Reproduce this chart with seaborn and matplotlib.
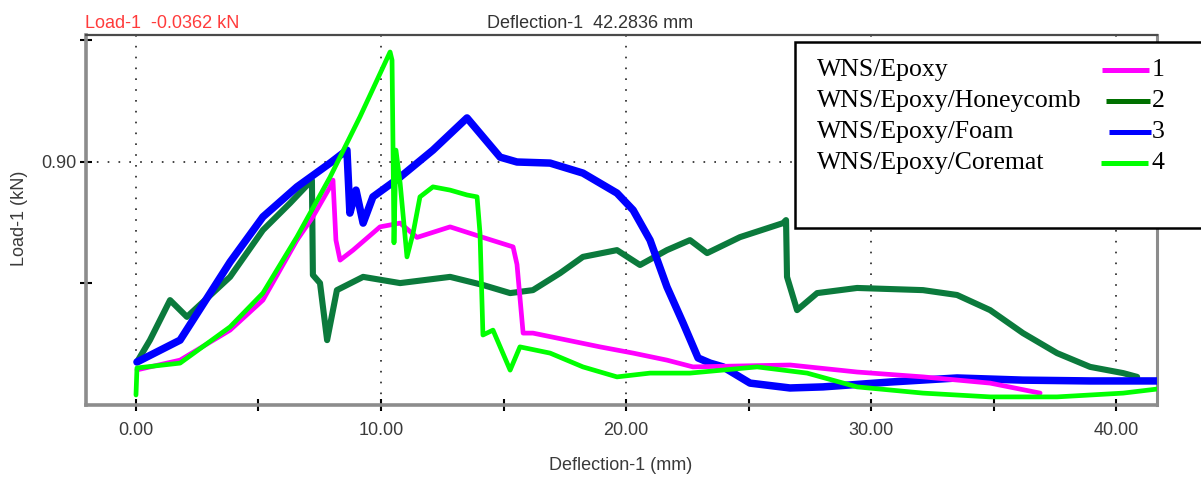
import numpy as np
import pandas as pd
import matplotlib
matplotlib.use("Agg")
import matplotlib.pyplot as plt
import seaborn as sns
from matplotlib.lines import Line2D
from matplotlib.patches import Rectangle

# ---------------- data ----------------
series_names = ["WNS/Epoxy", "WNS/Epoxy/Honeycomb", "WNS/Epoxy/Foam", "WNS/Epoxy/Coremat"]
series_numbers = ["1", "2", "3", "4"]
series_colors = ["#ff00ff", "#0b7a3c", "#0000ff", "#00ff00"]

epoxy_x = [0.04, 1.8, 3.84, 5.18, 6.57, 7.22, 7.92, 8.04, 8.16, 8.33, 8.86, 9.96, 10.78,
           11.47, 12.82, 14.16, 15.39, 15.55, 15.8, 16.2, 17.6, 18.94, 20.29, 21.67, 22.73,
           26.7, 29.43, 32.12, 34.86, 36.9]
epoxy_y = [0.13, 0.166, 0.277, 0.388, 0.61, 0.696, 0.807, 0.832, 0.61, 0.536, 0.573, 0.659, 0.673,
           0.62, 0.659, 0.62, 0.585, 0.52, 0.266, 0.266, 0.24, 0.215, 0.192, 0.166, 0.141,
           0.148, 0.122, 0.104, 0.081, 0.044]

honey_x = [0.04, 0.57, 1.39, 2.08, 3.84, 5.18, 6.29, 7.18, 7.22, 7.51, 7.8, 8.2, 9.27, 10.78,
           12.82, 14.16, 15.27, 16.2, 17.31, 18.24, 19.63, 20.57, 21.67, 22.61, 23.31, 24.65,
           26.41, 26.53, 26.57, 26.98, 27.8, 29.43, 32.12, 33.51, 34.86, 36.2, 37.59, 38.94,
           40.29, 40.86]
honey_y = [0.159, 0.24, 0.388, 0.326, 0.474, 0.647, 0.747, 0.832, 0.481, 0.451, 0.24, 0.425, 0.474,
           0.451, 0.474, 0.444, 0.414, 0.425, 0.488, 0.548, 0.573, 0.518, 0.573, 0.61, 0.562,
           0.621, 0.673, 0.684, 0.474, 0.351, 0.414, 0.433, 0.425, 0.407, 0.351, 0.266, 0.192,
           0.141, 0.118, 0.104]

foam_x = [0.04, 1.8, 3.84, 5.18, 6.57, 7.92, 8.61, 8.73, 8.98, 9.27, 9.67, 10.78, 12.12, 13.51,
          14.86, 15.55, 16.9, 18.24, 19.63, 20.29, 20.98, 21.67, 22.33, 22.94, 23.43, 23.96,
          25.06, 26.69, 28.04, 30.78, 33.51, 36.2, 38.94, 41.67]
foam_y = [0.159, 0.24, 0.529, 0.696, 0.807, 0.895, 0.943, 0.71, 0.795, 0.673, 0.77, 0.843, 0.943,
          1.062, 0.917, 0.899, 0.895, 0.858, 0.784, 0.721, 0.61, 0.437, 0.303, 0.174, 0.155,
          0.141, 0.081, 0.063, 0.067, 0.085, 0.1, 0.092, 0.089, 0.089]

coremat_x = [0.0, 0.04, 1.8, 3.84, 5.18, 6.57, 7.92, 9.14, 10.37, 10.45, 10.49, 10.53, 10.61,
             10.78, 11.06, 11.31, 11.59, 12.12, 12.82, 13.51, 13.92, 14.04, 14.16, 14.57, 15.27,
             15.67, 16.9, 18.24, 19.63, 20.98, 22.61, 25.35, 27.39, 29.43, 32.12, 34.86, 37.59,
             40.29, 41.67]
coremat_y = [0.037, 0.137, 0.155, 0.289, 0.414, 0.622, 0.843, 1.066, 1.306, 1.276, 0.954, 0.6,
             0.943, 0.821, 0.548, 0.636, 0.77, 0.807, 0.795, 0.777, 0.77, 0.636, 0.259, 0.277,
             0.129, 0.215, 0.192, 0.141, 0.104, 0.118, 0.118, 0.141, 0.118, 0.067, 0.044, 0.03,
             0.03, 0.044, 0.059]

x_tick_values = [0, 10, 20, 30, 40]
x_tick_labels = ["0.00", "10.00", "20.00", "30.00", "40.00"]
x_minor_values = [5, 15, 25, 35]
y_tick_values = [0.90]
y_tick_labels = ["0.90"]
y_minor_values = [0.45, 1.35]

header_left = "Load-1  -0.0362 kN"
header_mid = "Deflection-1  42.2836 mm"
x_label = "Deflection-1 (mm)"
y_label = "Load-1 (kN)"

# ---------------- build frame ----------------
xs = [epoxy_x, honey_x, foam_x, coremat_x]
ys = [epoxy_y, honey_y, foam_y, coremat_y]
frames = []
for name, x, y in zip(series_names, xs, ys):
    frames.append(pd.DataFrame({"series": name, "deflection": x, "load": y}))
df = pd.concat(frames, ignore_index=True)

# ---------------- figure ----------------
sns.set_theme(style="white")
plt.rcParams["font.family"] = ["Liberation Sans", "DejaVu Sans"]

W, H = 1201, 479
fig = plt.figure(figsize=(W / 100, H / 100), dpi=100)
fig.patch.set_facecolor("white")

def fx(px):
    return px / W

def fy(py):
    return 1 - py / H

ax_left, ax_right, ax_top, ax_bottom = 86, 1157, 35, 405
ax = fig.add_axes([fx(ax_left), fy(ax_bottom), (ax_right - ax_left) / W, (ax_bottom - ax_top) / H])
ax.set_facecolor("white")

draw_order = [1, 2, 0, 3]
widths = {0: 3.4, 1: 4.4, 2: 5.4, 3: 3.4}
for z, i in enumerate(draw_order):
    sub = df[df["series"] == series_names[i]]
    sns.lineplot(data=sub, x="deflection", y="load", sort=False, estimator=None,
                 color=series_colors[i], lw=widths[i], ax=ax, legend=False, zorder=3 + z)

ax.set_xlim(-2.04, 41.67)
ax.set_ylim(0.0, (405 - 35) / 270.3)

ax.set_xticks(x_tick_values)
ax.set_xticklabels(x_tick_labels)
ax.set_xticks(x_minor_values, minor=True)
ax.set_yticks(y_tick_values)
ax.set_yticklabels(y_tick_labels)
ax.set_yticks(y_minor_values, minor=True)

ax.grid(True, which="major", color="#222222", linestyle=(0, (1, 5.5)), lw=1.2)
ax.set_axisbelow(True)

ax.tick_params(axis="both", which="both", direction="inout", length=8, width=1.5,
               color="black", labelcolor="#3a3a3a", labelsize=13,
               bottom=True, left=True, top=False, right=False)
ax.tick_params(axis="x", which="major", pad=8)
ax.tick_params(axis="y", which="major", pad=3)
ax.set_xlabel("")
ax.set_ylabel("")

for side in ["left", "bottom"]:
    ax.spines[side].set_color("#8c8c8c")
    ax.spines[side].set_linewidth(2.6)
ax.spines["right"].set_color("#8c8c8c")
ax.spines["right"].set_linewidth(2.2)
ax.spines["top"].set_color("#4a4a4a")
ax.spines["top"].set_linewidth(1.6)

# axis labels and header
fig.text(fx(621), fy(466), x_label, ha="center", va="center", fontsize=13, color="#3a3a3a")
fig.text(fx(19), fy(218), y_label, ha="center", va="center", rotation=90, fontsize=13, color="#3a3a3a")
fig.text(fx(85), fy(28), header_left, ha="left", va="baseline", fontsize=13, color="#ff3b3b")
fig.text(fx(487), fy(28), header_mid, ha="left", va="baseline", fontsize=13, color="#333333")

# legend box (custom layout as in the reference)
box = Rectangle((fx(795), fy(228)), (1215 - 795) / W, (228 - 42) / H, transform=fig.transFigure,
                facecolor="white", edgecolor="black", lw=1.8, zorder=10, clip_on=False)
fig.add_artist(box)
baselines = [76, 107, 138, 169]
line_spans = [(1102, 1149), (1106, 1150), (1109, 1151), (1101, 1148)]
legend_line_colors = ["#ff00ff", "#007000", "#0000ff", "#00ff00"]
for i in range(4):
    fig.text(fx(817), fy(baselines[i]), series_names[i], ha="left", va="baseline",
             fontsize=18.5, family=["Liberation Serif", "DejaVu Serif"], color="black", zorder=11)
    yl = fy(baselines[i] - 6)
    fig.add_artist(Line2D([fx(line_spans[i][0]), fx(line_spans[i][1])], [yl, yl],
                          transform=fig.transFigure, color=legend_line_colors[i],
                          lw=3.6, solid_capstyle="butt", zorder=11))
    fig.text(fx(1152), fy(baselines[i]), series_numbers[i], ha="left", va="baseline",
             fontsize=18.5, family=["Liberation Serif", "DejaVu Serif"], color="black", zorder=11)

fig.savefig("out.png", dpi=100, facecolor="white")
